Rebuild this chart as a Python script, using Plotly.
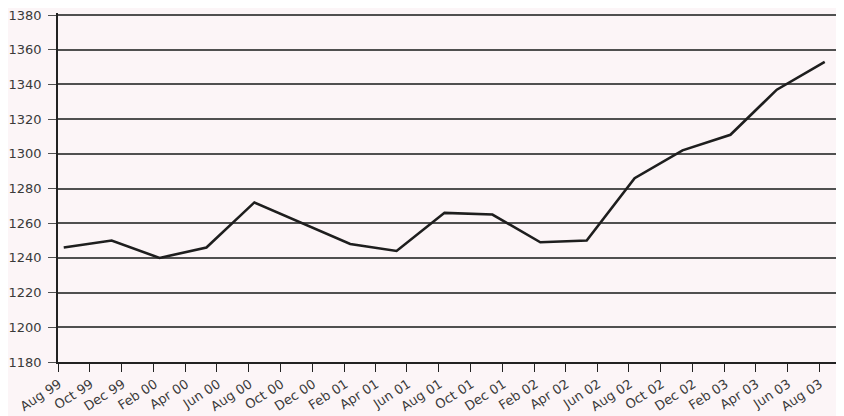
import plotly.graph_objects as go

dates = ["1999-08-12", "1999-11-12", "2000-02-12", "2000-05-12", "2000-08-12",
         "2000-11-12", "2001-02-12", "2001-05-12", "2001-08-12", "2001-11-12",
         "2002-02-12", "2002-05-12", "2002-08-12", "2002-11-12", "2003-02-12",
         "2003-05-12", "2003-08-12"]
values = [1246, 1250, 1240, 1246, 1272, 1260, 1248, 1244, 1266, 1265,
          1249, 1250, 1286, 1302, 1311, 1337, 1353]

bg = "#fcf5f7"
grid = "#505050"
txt = "#3a3a3a"

fig = go.Figure()
fig.add_trace(go.Scatter(x=dates, y=values, mode="lines",
                         line=dict(color="#1e1e1e", width=2.6),
                         showlegend=False, hoverinfo="skip"))

# page body has an 8px default margin, so the figure is sized to fit the window
fig.update_layout(
    width=836, height=408,
    margin=dict(l=50, r=0, t=5, b=54),
    paper_bgcolor=bg, plot_bgcolor=bg,
    font=dict(family="DejaVu Sans", color=txt, size=13),
)
fig.update_xaxes(
    type="date", range=["1999-08-01", "2003-09-18"],
    tick0="1999-08-01", dtick="M2", tickformat="%b %y",
    tickangle=-33, ticks="outside", ticklen=8, tickcolor="#222",
    showline=True, linecolor="#222", linewidth=1.6,
    showgrid=False, zeroline=False, automargin=False,
    ticklabeloverflow="allow",
    tickfont=dict(size=13, color=txt), ticklabelshift=1,
)
fig.update_yaxes(
    range=[1180, 1381.2], tick0=1180, dtick=20,
    ticks="outside", ticklen=8, tickcolor=grid,
    showline=True, linecolor="#222", linewidth=1.6,
    showgrid=True, gridcolor=grid, gridwidth=1.7,
    zeroline=False, automargin=False, ticklabelstandoff=4,
    ticklabeloverflow="allow",
    tickfont=dict(size=13, color=txt),
)

fig.write_html("out.html")
